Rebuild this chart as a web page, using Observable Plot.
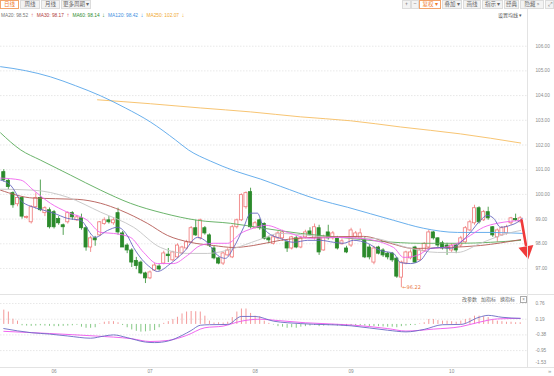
<!DOCTYPE html>
<html>
<head>
<meta charset="utf-8">
<script src="https://cdn.jsdelivr.net/npm/d3@7"></script>
<script src="https://cdn.jsdelivr.net/npm/@observablehq/plot@0.6"></script>
<style>
html,body{margin:0;padding:0;background:#fff;}
#wrap{position:relative;width:554px;height:376px;overflow:hidden;background:#fff;font-family:"Liberation Sans",Arial,sans-serif;}
.btn{position:absolute;top:0;height:9px;box-sizing:border-box;border:1px solid #dcdcdc;background:#f3f3f3;color:#666;font:5.5px/7px "Noto Sans CJK SC",sans-serif;text-align:center;white-space:nowrap;}
.btn.on{background:#fff;border-color:#f3a46b;color:#f07b2c;}
.ln{position:absolute;background:#e3e3e3;}
#legend{position:absolute;top:12px;left:1px;font:4.8px/6px "Liberation Sans",Arial,sans-serif;white-space:nowrap;}
#legend .ar{font-size:6px;margin:0 3px 0 2.5px;}
.cjk{position:absolute;font:5px/6px "Noto Sans CJK SC",sans-serif;color:#666;white-space:nowrap;}
#main{position:absolute;left:0;top:20px;}
#macd{position:absolute;left:0;top:294px;}
</style>
</head>
<body>
<div id="wrap">
  <div class="btn on" style="left:0;width:19px">日线</div>
  <div class="btn" style="left:20px;width:20px">周线</div>
  <div class="btn" style="left:41px;width:19px">月线</div>
  <div class="btn" style="left:61px;width:30px">更多周期 ▾</div>

  <div class="btn" style="left:402px;width:9px">+</div>
  <div class="btn" style="left:411px;width:8px">−</div>
  <div class="btn on" style="left:419px;width:22px">复权 ▾</div>
  <div class="btn" style="left:442px;width:20px">叠加 ▾</div>
  <div class="btn" style="left:463px;width:18px">画线</div>
  <div class="btn" style="left:482px;width:21px">指示 ▾</div>
  <div class="btn" style="left:504px;width:15px">经典</div>
  <div class="btn" style="left:520px;width:24px">隐藏 »</div>
  <div class="btn" style="left:545px;width:9px">⤢</div>

  <div id="legend"></div>
  <div class="cjk" style="left:498px;top:12px;color:#555">设置均线 ▾</div>

  <div id="main"></div>
  <div id="macd"></div>

  <div class="ln" style="left:527px;top:9px;width:1px;height:358px"></div>
  <div class="ln" style="left:0;top:294px;width:554px;height:1px"></div>
  <div class="ln" style="left:0;top:367px;width:554px;height:1px"></div>

  <div class="cjk" style="left:462px;top:296px">改参数</div>
  <div class="cjk" style="left:481px;top:296px">加指标</div>
  <div class="cjk" style="left:500px;top:296px">换指标</div>
  <div style="position:absolute;left:520px;top:296px;width:5px;height:5px;border:0.7px solid #aaa;font:4.5px/5px Arial;color:#888;text-align:center">×</div>
  <div style="position:absolute;left:548px;top:368px;font:6px/7px Arial;color:#999">»</div>
</div>
<script>
// ---------- data ----------
const openP  = [100.9,100.55,100.05,99.6,99.85,99.05,98.87,99.48,99.85,99.24,
  99.36,99.28,99.0,98.75,98.87,99.24,98.95,99.03,98.63,97.85,
  98.22,98.34,98.8,98.95,98.83,99.24,98.42,97.93,97.73,97.3,
  97.24,96.8,96.6,96.92,97.08,97.2,97.56,97.33,97.45,97.61,
  97.81,98.06,98.63,98.22,98.63,98.34,97.81,97.41,97.2,97.53,
  97.45,98.67,98.95,99.48,100.09,98.63,98.95,98.8,98.22,98.0,
  98.22,98.22,98.06,97.81,98.22,97.85,98.26,98.5,98.22,98.63,
  97.73,98.46,98.22,98.22,97.98,97.81,97.93,98.26,98.22,98.14,
  97.85,97.24,97.85,97.73,97.6,97.6,97.4,96.63,97.2,97.41,
  97.85,97.33,97.7,97.85,98.46,98.22,98.02,97.93,97.73,97.93,
  97.93,98.06,98.54,98.83,99.44,98.95,99.28,98.67,98.26,98.34,
  98.42,98.83,99.0,98.87];
const highP  = [101.0,100.6,100.1,99.95,99.9,99.12,99.55,100.05,100.58,99.5,
  99.45,99.35,99.1,98.8,99.3,99.3,99.15,99.2,98.7,98.3,
  98.3,98.9,99.05,99.1,99.05,99.44,98.5,98.0,97.8,97.45,
  97.3,96.85,96.9,97.2,97.15,97.7,97.81,97.7,98.0,97.9,
  98.14,98.7,98.95,99.0,98.7,98.4,97.9,97.45,97.65,97.8,
  98.75,99.0,100.02,100.1,100.25,98.9,99.0,98.85,98.3,98.35,
  98.5,98.55,98.1,98.3,98.3,98.3,98.55,98.65,98.8,98.75,
  98.35,98.75,98.5,98.3,98.2,97.9,98.63,98.5,98.6,98.25,
  97.95,97.9,97.9,97.8,97.65,97.65,97.45,97.3,97.7,97.75,
  97.9,97.8,98.05,98.55,98.5,98.25,98.1,98.02,98.0,98.0,
  98.3,98.7,98.95,99.56,99.5,99.35,99.48,98.7,98.6,98.7,
  98.75,99.07,99.2,99.1];
const lowP   = [100.5,100.2,99.44,99.5,99.0,99.0,98.8,99.4,99.3,99.1,
  98.6,98.6,98.75,98.34,98.8,98.95,98.9,98.55,97.7,97.65,
  97.9,98.3,98.75,98.8,98.75,98.35,97.85,97.6,97.04,96.95,
  96.75,96.39,96.55,96.88,96.9,97.15,97.24,97.28,97.4,97.55,
  97.75,98.0,98.3,98.15,98.35,97.85,97.35,97.15,97.12,97.5,
  97.4,98.6,98.9,99.4,98.6,98.6,98.55,98.15,98.0,97.95,
  98.15,98.1,97.65,97.75,97.8,97.8,98.2,98.3,98.15,97.53,
  97.7,98.15,98.15,97.75,97.95,97.6,97.85,98.2,98.2,97.4,
  97.35,97.15,97.55,97.45,97.35,97.25,96.6,96.22,97.15,97.35,
  97.2,97.3,97.65,97.8,98.15,97.85,97.75,97.53,97.65,97.6,
  97.85,98.0,98.5,98.75,98.8,98.9,98.95,98.26,98.06,98.3,
  98.35,98.75,98.9,98.85];
const closeP = [100.58,100.3,99.56,99.85,99.1,99.09,99.48,99.85,99.36,99.44,
  98.67,98.67,98.83,98.67,99.24,99.07,99.07,98.63,97.85,98.22,
  98.14,98.87,98.95,98.87,98.95,98.46,97.85,97.73,97.24,97.1,
  96.8,96.6,96.84,97.12,96.96,97.61,97.5,97.65,97.93,97.85,
  98.06,98.63,98.34,98.95,98.42,97.93,97.41,97.2,97.61,97.73,
  98.67,98.95,99.97,100.05,98.67,98.83,98.63,98.2,98.14,98.26,
  98.42,98.46,97.81,98.26,97.85,98.22,98.46,98.38,98.67,97.65,
  98.26,98.22,98.42,97.81,98.1,97.65,98.54,98.42,98.42,97.45,
  97.45,97.81,97.6,97.53,97.45,97.33,96.67,97.24,97.65,97.65,
  97.24,97.73,98.0,98.46,98.22,97.93,97.81,97.81,97.93,97.73,
  98.22,98.63,98.87,99.44,98.87,99.28,99.03,98.34,98.54,98.63,
  98.67,99.03,98.95,99.03];

const ma5Idx = [-0.7,1.5,3.7,6.5,8.7,10.9,13.9,16.8,20,22.7,24.9,27,28.4,32.1,33.6,36.5,39.3,42.4,44.5,46.8,48.5,50.3,52.5,54,55.5,56.8,57.7,60.5,63.4,66.5,69.3,72.2,74.3,76.5,79.6,82.4,85.3,86.8,89,91.2,93.4,95.6,97.7,100,102.1,104.3,105.8,107.2,108.7,110.9,112.4,113.5];
const ma5Val = [100.58,100.37,99.76,99.48,99.36,99.24,99.03,98.95,98.26,98.54,98.67,98.34,97.85,97.04,96.88,97.2,97.65,98.26,98.06,97.53,97.41,97.85,98.67,99.24,99.24,98.67,98.46,98.22,98.06,98.14,98.14,98.06,98.02,98.14,98.02,97.73,97.61,97.24,97.2,97.33,97.81,97.85,97.81,98.06,98.46,98.95,99.15,99.03,98.67,98.75,98.87,99.03];
const ma10Idx = [-0.7,3.7,6.5,10.2,13.9,18.3,21.2,24,27.7,30.6,33.6,37.1,40.2,43,45.9,49,51.8,54.6,57.3,62.1,67.1,73,78,85.3,87.5,90.5,93.4,96.2,99.3,102.1,105,108,110.9,113.5];
const ma10Val = [100.66,100.58,100.17,99.64,99.28,98.95,98.46,98.42,98.26,97.65,97.2,97.2,97.53,97.93,98.02,98.02,98.42,98.63,98.75,98.46,98.22,98.26,98.22,97.85,97.45,97.53,97.81,97.85,98.02,98.34,98.67,98.83,98.91,98.95];
const ma20Idx = [-0.7,6.5,13.9,21.2,28.4,34.3,40.2,44.6,50.3,55.5,60.5,71.5,80.9,88.3,94.9,99.3,104.3,110.2,113.1];
const ma20Val = [100.21,100.17,99.89,99.28,98.67,97.85,97.61,97.61,97.81,98.14,98.42,98.26,98.22,97.85,97.65,97.65,98.02,98.42,98.54];
const ma30Idx = [-0.7,6.5,16.1,21.2,25.5,31.4,35.8,40.8,45.9,50.3,54.6,60.5,67.8,78.7,84.6,89.6,97.1,104.3,113.1];
const ma30Val = [100.17,99.85,99.8,99.64,99.36,98.83,98.34,98.06,97.93,97.85,97.93,98.14,98.26,98.3,98.02,97.81,97.85,97.93,98.17];
const ma60Idx = [-0.7,3.7,8,14.6,21.2,27.7,34.9,42.4,49.6,56.8,64.9,73.7,82.4,91.2,99.9,106.5,113.1];
const ma60Val = [102.49,101.8,101.39,100.78,100.17,99.64,99.24,98.95,98.83,98.63,98.42,98.26,98.1,98.02,98.02,98.06,98.14];
const ma120Idx = [-0.7,4.75,10.2,15.7,21.2,26.6,32.1,37.6,40.4,45.2,50.7,56.2,60.5,68.6,75.2,85.3,91.8,99.3,106.5,113.5];
const ma120Val = [105.17,105.01,104.76,104.4,103.99,103.5,102.93,102.2,101.8,101.35,100.94,100.62,100.33,99.8,99.48,98.95,98.63,98.46,98.46,98.42];
const ma250Idx = [20.5,32.1,43,54,64.9,75.9,86.8,99.9,113.1];
const ma250Val = [103.83,103.67,103.5,103.34,103.14,102.98,102.73,102.45,102.08];

const macdHist = [0.52,0.45,0.19,0.12,-0.05,-0.06,-0.07,-0.06,-0.05,-0.06,
  -0.07,-0.08,-0.08,-0.07,-0.06,-0.05,-0.03,-0.1,-0.14,-0.14,
  -0.12,0.02,0.08,0.1,0.1,0.06,-0.04,-0.12,-0.2,-0.25,
  -0.28,-0.27,-0.25,-0.22,-0.12,0.04,0.1,0.18,0.26,0.38,
  0.45,0.47,0.46,0.45,0.3,0.12,0.05,0.06,0.05,0.08,
  0.25,0.45,0.56,0.56,0.4,0.3,0.28,0.12,0.04,-0.02,
  -0.08,-0.1,-0.14,-0.12,-0.14,-0.1,-0.08,-0.06,-0.04,-0.08,
  -0.06,-0.05,-0.04,-0.06,-0.06,-0.08,-0.05,-0.04,-0.04,-0.06,
  -0.08,-0.08,-0.08,-0.09,-0.1,-0.1,-0.12,-0.08,-0.06,-0.04,
  -0.04,0.02,0.06,0.18,0.18,0.14,0.12,0.12,0.1,0.08,
  0.12,0.18,0.22,0.3,0.3,0.28,0.25,0.16,0.12,0.1,
  0.08,0.08,0.06,0.06];
const difIdx = [0,6,10,14,19,22,24,27,31,33,36,39,41,43,45,49,52,55,59,65,76,84,88,92,96,100,104,106,109,113];
const difVal = [-0.15,-0.3,-0.35,-0.42,-0.5,-0.42,-0.38,-0.48,-0.64,-0.66,-0.6,-0.4,-0.22,-0.03,-0.01,0.0,0.29,0.29,0.12,0.03,-0.05,-0.21,-0.27,-0.18,-0.01,0.0,0.26,0.33,0.26,0.22];
const deaIdx = [0,10,20,28,32,36,40,44,48,52,56,60,66,76,84,88,94,100,104,108,113];
const deaVal = [-0.25,-0.33,-0.42,-0.52,-0.62,-0.58,-0.4,-0.12,-0.06,0.12,0.19,0.14,0.06,-0.02,-0.15,-0.24,-0.17,-0.08,0.08,0.2,0.22];

const priceTicks = [97,98,99,100,101,102,103,104,105,106];
const macdTicks = [0.76,0.19,-0.38,-0.95,-1.53];
const monthIdx = [11,32,55,76,98];
const monthLabels = ["06","07","08","09","10"];

const legendNames = ["MA20","MA30","MA60","MA120","MA250"];
const legendValues = [98.52,98.17,98.14,98.42,102.07];
const legendTrend = ["↑","↑","↓","↓","↓"];

const lowIdx = 87, lowValue = 96.22;
const arrowShaftIdx = [113.3,114.25], arrowShaftVal = [98.95,97.95];
const arrowHeadIdx = 114.42, arrowHeadVal = 97.72;

// ---------- styles ----------
const RED = "#ef7676", GREEN = "#2b8a2b";
const legendColors = ["#777777","#b03a3a","#2e8b2e","#3c8ee0","#f0a830"];
const arrowColors = ["#d66","#e04040","#2e8b2e","#3c8ee0","#f0a830"];

// legend
const lg = document.getElementById("legend");
legendNames.forEach((n,k)=>{
  const s = document.createElement("span");
  s.style.color = legendColors[k];
  s.textContent = `${n}: ${legendValues[k].toFixed(2)}`;
  const a = document.createElement("span");
  a.className = "ar"; a.style.color = arrowColors[k]; a.textContent = legendTrend[k];
  lg.appendChild(s); lg.appendChild(a);
});

const N = openP.length;
const xDom = [-0.72, 114.6];
const candles = d3.range(N).map(i => ({i, o: openP[i], h: highP[i], l: lowP[i], c: closeP[i]}));
const isUp = d => d.c >= d.o;
const pts = (xs, ys) => xs.map((x,k) => ({i: x, v: ys[k]}));

const maDefs = [
  [ma250Idx, ma250Val, "#f6bd62"],
  [ma120Idx, ma120Val, "#58a6ea"],
  [ma60Idx, ma60Val, "#5aac5a"],
  [ma30Idx, ma30Val, "#b45a55"],
  [ma20Idx, ma20Val, "#c4c4c4"],
  [ma10Idx, ma10Val, "#f062ee"],
  [ma5Idx, ma5Val, "#6666c0"]
];

const main = Plot.plot({
  width: 554, height: 274,
  marginLeft: 0, marginRight: 27, marginTop: 0, marginBottom: 0,
  style: {background: "transparent", color: "#8a8a8a", fontFamily: "Liberation Sans, Arial, sans-serif", fontSize: "4.7px", overflow: "visible"},
  x: {domain: xDom, axis: null},
  y: {domain: [95.947, 107.04]},
  marks: [
    Plot.ruleY(priceTicks, {stroke: "#e2e2e2", strokeDasharray: "1.5,1.5", strokeWidth: 0.8}),
    Plot.ruleX(candles, {x: "i", y1: "l", y2: "h", stroke: d => isUp(d) ? RED : GREEN, strokeWidth: 0.8}),
    Plot.rect(candles, {x1: d => d.i - 0.34, x2: d => d.i + 0.34, y1: "o", y2: "c",
      fill: d => isUp(d) ? "#fff" : GREEN, stroke: d => isUp(d) ? RED : GREEN, strokeWidth: 0.8}),
    ...maDefs.map(([xs, ys, col]) => Plot.line(pts(xs, ys), {x: "i", y: "v", stroke: col, strokeWidth: 0.9, curve: "monotone-x"})),
    Plot.axisY({anchor: "right", ticks: priceTicks, tickFormat: d => d.toFixed(2), tickSize: 0, tickPadding: 8, label: null, textAnchor: "start"}),
    Plot.text([{i: lowIdx, v: lowValue}], {x: "i", y: "v", text: d => "←" + d.v.toFixed(2), textAnchor: "start", dx: 1, fill: "#ea7a45", fontSize: 5, fontFamily: "DejaVu Sans"}),
    Plot.line(pts(arrowShaftIdx, arrowShaftVal), {x: "i", y: "v", stroke: "#f03a3a", strokeWidth: 2.6}),
    Plot.dot([{i: arrowHeadIdx, v: arrowHeadVal}], {x: "i", y: "v", symbol: "triangle", r: 5.6, fill: "#f03a3a", rotate: 170})
  ]
});
document.getElementById("main").appendChild(main);

const hist = macdHist.map((v,i) => ({i, v}));
const macd = Plot.plot({
  width: 554, height: 82,
  marginLeft: 0, marginRight: 27, marginTop: 0, marginBottom: 9,
  style: {background: "transparent", color: "#8a8a8a", fontFamily: "Liberation Sans, Arial, sans-serif", fontSize: "4.7px", overflow: "visible"},
  x: {domain: xDom},
  y: {domain: [-1.564, 1.087]},
  marks: [
    Plot.ruleY(macdTicks.slice(0,4), {stroke: "#e2e2e2", strokeDasharray: "1.5,1.5", strokeWidth: 0.8}),
    Plot.ruleX(hist, {x: "i", y1: 0, y2: "v", stroke: d => d.v >= 0 ? "#f39a9a" : "#86c986", strokeWidth: 1}),
    Plot.line(pts(deaIdx, deaVal), {x: "i", y: "v", stroke: "#ee55ee", strokeWidth: 0.9, curve: "monotone-x"}),
    Plot.line(pts(difIdx, difVal), {x: "i", y: "v", stroke: "#6a6ac4", strokeWidth: 0.9, curve: "monotone-x"}),
    Plot.axisY({anchor: "right", ticks: macdTicks.slice(0,4), tickFormat: d => d.toFixed(2), tickSize: 0, tickPadding: 8, label: null, textAnchor: "start"}),
    Plot.text(macdTicks.slice(4), {frameAnchor: "right", y: d => d, text: d => d.toFixed(2), textAnchor: "start", dx: 8, dy: -4}),
    Plot.axisX({ticks: monthIdx, tickFormat: d => monthLabels[monthIdx.indexOf(d)], tickSize: 0, tickPadding: 2, label: null})
  ]
});
document.getElementById("macd").appendChild(macd);
</script>
</body>
</html>
